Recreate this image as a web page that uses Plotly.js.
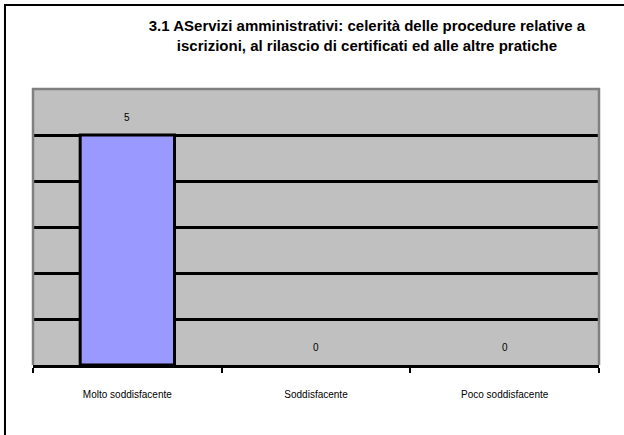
<!DOCTYPE html>
<html>
<head>
<meta charset="utf-8">
<script src="https://cdn.plot.ly/plotly-3.0.1.min.js"></script>
<style>html,body{margin:0;padding:0;background:#fff;}#chart{width:624px;height:435px;}</style>
</head>
<body>
<div id="chart"></div>
<script>
const categories = ["Molto soddisfacente", "Soddisfacente", "Poco soddisfacente"];
const values = [5, 0, 0];
const titleText = "3.1 AServizi amministrativi: celerità delle procedure relative a<br>iscrizioni, al rilascio di certificati ed alle altre pratiche";

const FONT = "Liberation Sans, Arial, sans-serif";

const trace = {
  type: "bar",
  x: categories,
  y: values,
  width: 0.5,
  marker: {color: "#9999ff", line: {color: "#000000", width: values.map(v => v > 0 ? 3 : 0)}},
  hoverinfo: "none"
};

const annotations = categories.map((c, i) => ({
  x: c, y: values[i], xref: "x", yref: "y",
  text: String(values[i]), showarrow: false,
  yanchor: "middle", yshift: 18,
  font: {family: FONT, size: 10, color: "#000"}
}));

const layout = {
  width: 624, height: 435,
  margin: {l: 33, r: 25, t: 89, b: 70},
  paper_bgcolor: "#ffffff",
  plot_bgcolor: "#c0c0c0",
  showlegend: false,
  title: {
    text: titleText,
    font: {family: FONT, size: 15, color: "#000", weight: "bold"},
    xref: "container", x: 0.588, xanchor: "center",
    yref: "container", y: 0.928, yanchor: "top"
  },
  xaxis: {
    type: "category",
    tickson: "boundaries",
    ticks: "outside", ticklen: 5, tickwidth: 2, tickcolor: "#000",
    showline: true, linecolor: "#000", linewidth: 3,
    showgrid: false, zeroline: false,
    ticklabelstandoff: 18,
    tickfont: {family: FONT, size: 10, color: "#000"}
  },
  yaxis: {
    range: [0, 6], dtick: 1,
    showticklabels: false, ticks: "",
    showgrid: true, gridcolor: "#000", gridwidth: 3,
    zeroline: false, showline: false
  },
  annotations: annotations,
  shapes: [
    {type: "path", xref: "paper", yref: "paper",
     path: "M 0,0 L 0,1 L 1,1 L 1,0",
     line: {color: "#808080", width: 2.5}},
    {type: "path", xref: "paper", yref: "paper",
     path: "M -0.0495,-0.3 L -0.0495,1.304 L 1.1,1.304",
     line: {color: "#000", width: 2}}
  ]
};

Plotly.newPlot("chart", [trace], layout, {staticPlot: true, displayModeBar: false});
</script>
</body>
</html>
